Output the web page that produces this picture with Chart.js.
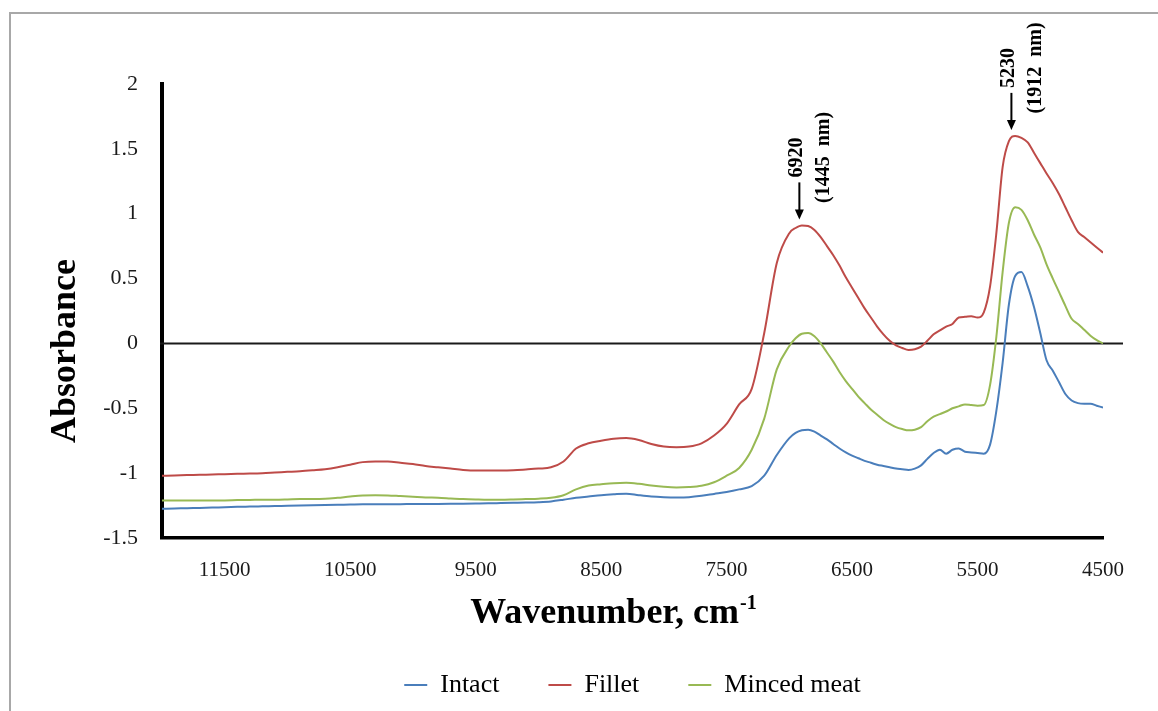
<!DOCTYPE html>
<html>
<head>
<meta charset="utf-8">
<title>NIR spectra</title>
<script src="https://cdn.jsdelivr.net/npm/chart.js@4.4.1/dist/chart.umd.min.js"></script>
<style>
    html, body { margin: 0; padding: 0; background: #fff; }
    #frame {
        position: absolute; left: 9px; top: 12px; width: 1160px; height: 710px;
        border-left: 2px solid #a8a8a8; border-top: 2px solid #a8a8a8;
    }
    #wrap { position: absolute; left: 0; top: 0; width: 1158px; height: 711px; }
</style>
</head>
<body>
<div id="frame"></div>
<div id="wrap"><canvas id="spectra"></canvas></div>
<script>
// Волновые числа, см-1 (шаг 100 до 7000, дальше 50)
const wavenumbers = [
    12000, 11900, 11800, 11700, 11600, 11500, 11400, 11300, 11200, 11100,
    11000, 10900, 10800, 10700, 10600, 10500, 10400, 10300, 10200, 10100,
    10000, 9900, 9800, 9700, 9600, 9500, 9400, 9300, 9200, 9100,
    9000, 8900, 8800, 8700, 8600, 8500, 8400, 8300, 8200, 8100,
    8000, 7900, 7800, 7700, 7600, 7500, 7400, 7300, 7200, 7100,
    7000, 6950, 6900, 6850, 6800, 6750, 6700, 6650, 6600, 6550,
    6500, 6450, 6400, 6350, 6300, 6250, 6200, 6150, 6100, 6050,
    6000, 5950, 5900, 5850, 5800, 5750, 5700, 5650, 5600, 5550,
    5500, 5450, 5400, 5350, 5300, 5250, 5200, 5150, 5100, 5050,
    5000, 4950, 4900, 4850, 4800, 4750, 4700, 4650, 4600, 4550,
    4500
];

const intact = [
    -1.275, -1.273, -1.27, -1.268, -1.265, -1.263, -1.26, -1.258, -1.256, -1.254,
    -1.252, -1.25, -1.248, -1.246, -1.244, -1.242, -1.24, -1.24, -1.239, -1.239,
    -1.238, -1.238, -1.237, -1.236, -1.235, -1.234, -1.233, -1.231, -1.229, -1.227,
    -1.224, -1.218, -1.205, -1.19, -1.18, -1.17, -1.163, -1.158, -1.17, -1.18,
    -1.185, -1.187, -1.185, -1.175, -1.16, -1.145, -1.125, -1.10, -1.02, -0.86,
    -0.73, -0.69, -0.67, -0.665, -0.68, -0.71, -0.74, -0.775, -0.81, -0.84,
    -0.865, -0.885, -0.905, -0.92, -0.935, -0.945, -0.955, -0.965, -0.97, -0.975,
    -0.965, -0.94, -0.89, -0.845, -0.82, -0.85, -0.82, -0.81, -0.835, -0.84,
    -0.845, -0.85, -0.78, -0.52, -0.15, 0.30, 0.52, 0.55, 0.44, 0.28,
    0.08, -0.13, -0.21, -0.30, -0.39, -0.44, -0.46, -0.465, -0.465, -0.48,
    -0.495
];

const fillet = [
    -1.02, -1.018, -1.015, -1.013, -1.01, -1.008, -1.005, -1.003, -1.0, -0.995,
    -0.99, -0.985, -0.978, -0.97, -0.955, -0.935, -0.915, -0.91, -0.91, -0.92,
    -0.93, -0.945, -0.955, -0.965, -0.975, -0.98, -0.98, -0.98, -0.978, -0.972,
    -0.965, -0.955, -0.91, -0.81, -0.77, -0.75, -0.735, -0.73, -0.745, -0.775,
    -0.795, -0.80, -0.795, -0.77, -0.71, -0.62, -0.47, -0.35, 0.08, 0.62,
    0.85, 0.89, 0.91, 0.905, 0.875, 0.82, 0.75, 0.68, 0.60, 0.51,
    0.43, 0.35, 0.27, 0.20, 0.13, 0.07, 0.02, -0.015, -0.035, -0.05,
    -0.045, -0.025, 0.02, 0.07, 0.10, 0.13, 0.15, 0.20, 0.205, 0.21,
    0.20, 0.24, 0.44, 0.85, 1.36, 1.56, 1.60, 1.585, 1.55, 1.47,
    1.39, 1.31, 1.235, 1.15, 1.05, 0.95, 0.86, 0.82, 0.78, 0.74,
    0.70
];

const minced = [
    -1.21, -1.21, -1.21, -1.21, -1.21, -1.21, -1.208, -1.207, -1.205, -1.205,
    -1.203, -1.2, -1.2, -1.198, -1.19, -1.18, -1.172, -1.17, -1.172, -1.177,
    -1.182, -1.187, -1.19, -1.195, -1.2, -1.203, -1.205, -1.205, -1.203, -1.2,
    -1.197, -1.19, -1.17, -1.125, -1.095, -1.085, -1.077, -1.075, -1.082, -1.095,
    -1.105, -1.11, -1.107, -1.097, -1.07, -1.02, -0.96, -0.82, -0.58, -0.2,
    -0.02, 0.04, 0.075, 0.08, 0.055, 0.0, -0.07, -0.14, -0.22, -0.29,
    -0.35, -0.41, -0.46, -0.51, -0.55, -0.59, -0.62, -0.645, -0.66, -0.67,
    -0.665, -0.645, -0.6, -0.565, -0.545, -0.525, -0.5, -0.485, -0.47, -0.475,
    -0.48, -0.475, -0.32, 0.05, 0.55, 0.93, 1.05, 1.03, 0.95, 0.84,
    0.74, 0.61, 0.50, 0.395, 0.29, 0.19, 0.15, 0.105, 0.06, 0.025,
    0.0
];

const seriesNames = ['Intact', 'Fillet', 'Minced meat'];
const seriesColors = ['#4a7ebb', '#be4b48', '#98b954'];
const xTickValues = [11500, 10500, 9500, 8500, 7500, 6500, 5500, 4500];

// Подписи пиков: волновое число и длина волны
const peakMarks = [
    { wn: 6920, nm: 1445 },
    { wn: 5230, nm: 1912 }
];

const serif = "'Liberation Serif', 'Times New Roman', serif";
Chart.defaults.font.family = serif;
Chart.defaults.color = '#1a1a1a';

// Нулевая линия, подписи осей и стрелки над пиками
const decorations = {
    id: 'decorations',
    beforeDatasetsDraw(chart) {
        const { ctx, chartArea, scales: { y } } = chart;
        const y0 = y.getPixelForValue(0);
        ctx.save();
        ctx.strokeStyle = '#1a1a1a';
        ctx.lineWidth = 2;
        ctx.beginPath();
        ctx.moveTo(chartArea.left - 2, y0);
        ctx.lineTo(chartArea.right + 20, y0);
        ctx.stroke();
        ctx.restore();
    },
    afterDatasetsDraw(chart) {
        const { ctx, scales: { x, y } } = chart;
        ctx.save();
        ctx.fillStyle = '#000';
        ctx.strokeStyle = '#000';

        peakMarks.forEach(mark => {
            const px = x.getPixelForValue(mark.wn);
            let top = -Infinity;
            wavenumbers.forEach((w, i) => {
                if (Math.abs(w - mark.wn) <= 150) top = Math.max(top, fillet[i]);
            });
            const tip = y.getPixelForValue(top) - 6;
            const tail = tip - 37;

            ctx.lineWidth = 2;
            ctx.beginPath();
            ctx.moveTo(px, tail);
            ctx.lineTo(px, tip - 8);
            ctx.stroke();
            ctx.beginPath();
            ctx.moveTo(px - 4.5, tip - 10);
            ctx.lineTo(px + 4.5, tip - 10);
            ctx.lineTo(px, tip);
            ctx.closePath();
            ctx.fill();

            ctx.save();
            ctx.font = 'bold 20px ' + serif;
            ctx.textAlign = 'center';
            ctx.textBaseline = 'middle';
            ctx.translate(px - 3, tail - 25);
            ctx.rotate(-Math.PI / 2);
            ctx.fillText(String(mark.wn), 0, 0);
            ctx.fillText('(' + mark.nm + '  nm)', 0, 27);
            ctx.restore();
        });
        ctx.restore();
    },
    afterDraw(chart) {
        const { ctx } = chart;
        ctx.save();
        ctx.fillStyle = '#000';

        // Absorbance
        ctx.save();
        ctx.font = 'bold 36px ' + serif;
        ctx.textAlign = 'center';
        ctx.textBaseline = 'alphabetic';
        ctx.translate(75, 351);
        ctx.rotate(-Math.PI / 2);
        ctx.fillText('Absorbance', 0, 0);
        ctx.restore();

        // Wavenumber, cm-1 с верхним индексом
        const main = 'Wavenumber, cm';
        const sup = '-1';
        ctx.font = 'bold 36px ' + serif;
        const wMain = ctx.measureText(main).width;
        ctx.font = 'bold 20px ' + serif;
        const wSup = ctx.measureText(sup).width;
        const startX = 613 - (wMain + wSup) / 2;
        ctx.textAlign = 'left';
        ctx.textBaseline = 'alphabetic';
        ctx.font = 'bold 36px ' + serif;
        ctx.fillText(main, startX, 623);
        ctx.font = 'bold 20px ' + serif;
        ctx.fillText(sup, startX + wMain + 1, 609);
        ctx.restore();
    }
};

const datasets = [intact, fillet, minced].map((values, k) => ({
    label: seriesNames[k],
    data: wavenumbers.map((w, i) => ({ x: w, y: values[i] })),
    borderColor: seriesColors[k],
    backgroundColor: seriesColors[k],
    borderWidth: 2,
    pointRadius: 0,
    pointStyle: 'line',
    cubicInterpolationMode: 'monotone',
    fill: false
}));

new Chart(document.getElementById('spectra'), {
    type: 'line',
    data: { datasets },
    plugins: [decorations],
    options: {
        responsive: true,
        maintainAspectRatio: false,
        animation: false,
        layout: { padding: { left: 0, right: 55, top: 84, bottom: 3 } },
        scales: {
            x: {
                type: 'linear',
                reverse: true,
                min: 4500,
                max: 12000,
                afterBuildTicks: scale => {
                    scale.ticks = xTickValues.map(v => ({ value: v }));
                },
                afterFit: scale => { scale.height = 85; },
                grid: { display: false, drawTicks: false },
                border: { display: true, color: '#000', width: 3.5 },
                ticks: {
                    autoSkip: false,
                    maxRotation: 0,
                    padding: 20,
                    color: '#1a1a1a',
                    font: { size: 21 },
                    callback: v => String(v)
                }
            },
            y: {
                min: -1.5,
                max: 2,
                afterFit: scale => { scale.width = 162; },
                grid: { display: false, drawTicks: false },
                border: { display: true, color: '#000', width: 4 },
                ticks: {
                    stepSize: 0.5,
                    padding: 24,
                    color: '#1a1a1a',
                    font: { size: 22 },
                    callback: v => String(v)
                }
            }
        },
        plugins: {
            tooltip: { enabled: false },
            legend: {
                position: 'bottom',
                fullSize: false,
                labels: {
                    usePointStyle: true,
                    pointStyle: 'line',
                    pointStyleWidth: 23,
                    padding: 49,
                    color: '#000',
                    font: { size: 26 }
                }
            }
        }
    }
});
</script>
</body>
</html>
